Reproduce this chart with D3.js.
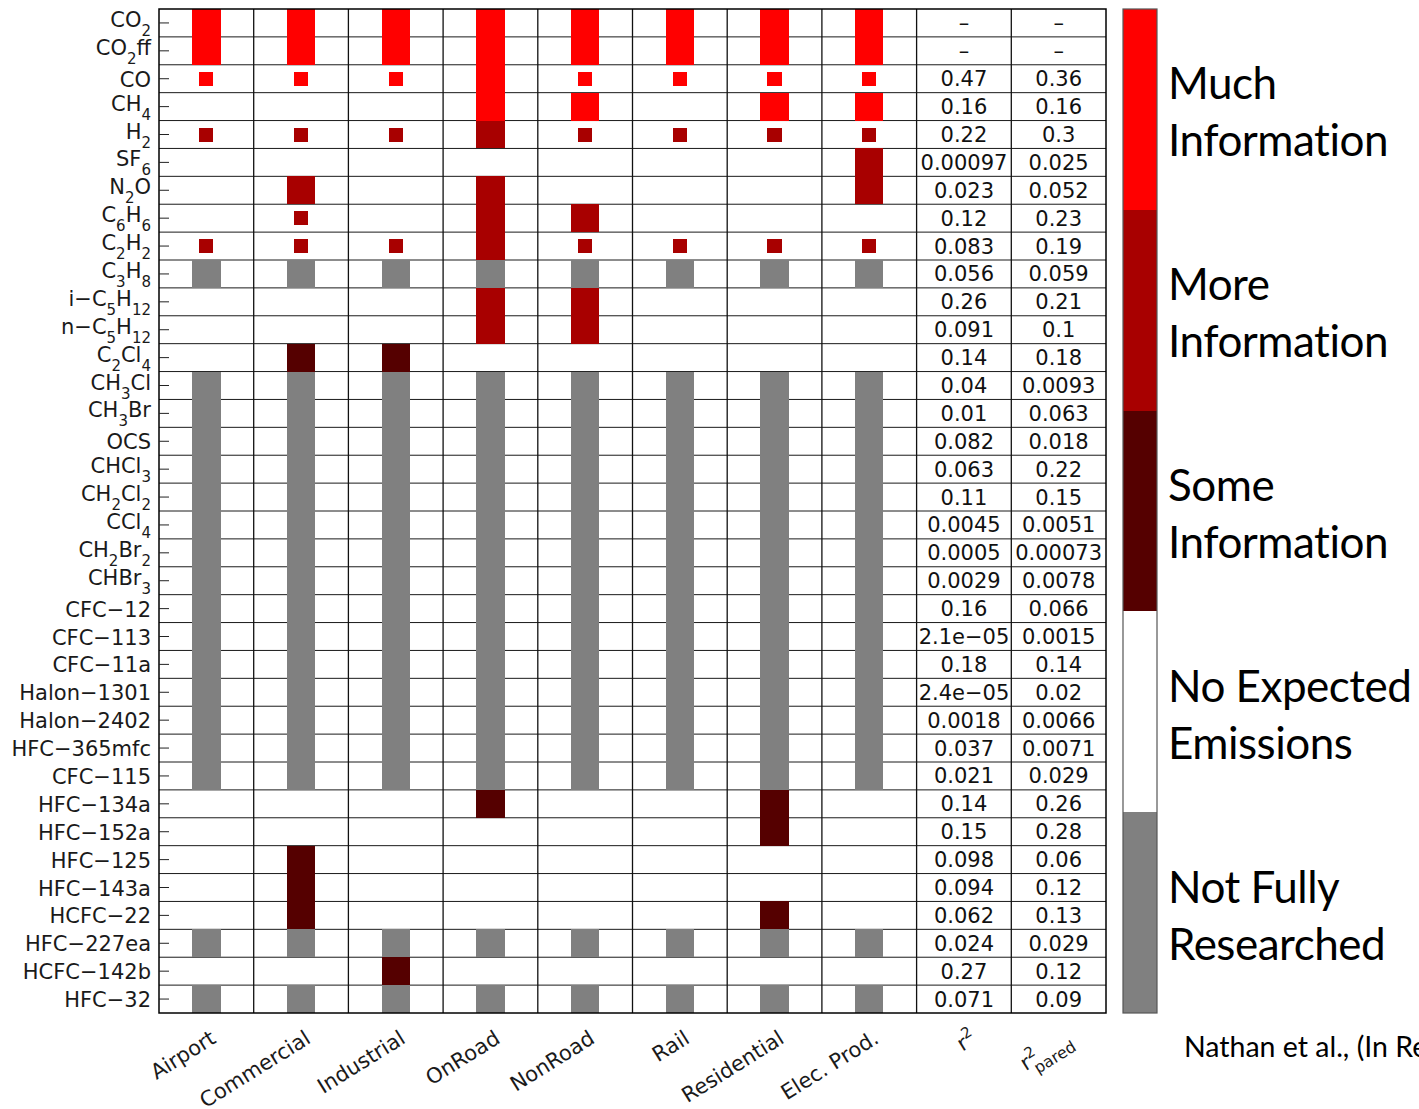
<!DOCTYPE html>
<html>
<head>
<meta charset="utf-8">
<script src="https://cdn.jsdelivr.net/npm/d3@7"></script>
<style>
  body { margin: 0; background: #fff; }
  svg { display: block; }
</style>
</head>
<body>
<svg id="chart" width="1419" height="1109"></svg>
<script>
// Trace species (rows); "_" introduces a run of subscript digits
const species = ["CO_2","CO_2ff","CO","CH_4","H_2","SF_6","N_2O","C_6H_6","C_2H_2","C_3H_8",
  "i−C_5H_12","n−C_5H_12","C_2Cl_4","CH_3Cl","CH_3Br","OCS","CHCl_3","CH_2Cl_2","CCl_4",
  "CH_2Br_2","CHBr_3","CFC−12","CFC−113","CFC−11a","Halon−1301","Halon−2402","HFC−365mfc",
  "CFC−115","HFC−134a","HFC−152a","HFC−125","HFC−143a","HCFC−22","HFC−227ea","HCFC−142b","HFC−32"];

const sectors = ["Airport","Commercial","Industrial","OnRoad","NonRoad","Rail","Residential","Elec. Prod."];

// Information level per species, one character per row:
// M much, R more, S some, G not fully researched, "." no expected emissions.
// Lower case = partial (small marker) entry.
const airportInfo     = "MMm.r...rG..." + "GGGGGGGGGGGGGGG" + ".....G.G";
const commercialInfo  = "MMm.r.RrrG..S" + "GGGGGGGGGGGGGGG" + "..SSSG.G";
const industrialInfo  = "MMm.r...rG..S" + "GGGGGGGGGGGGGGG" + ".....GSG";
const onRoadInfo      = "MMMMR.RRRGRR." + "GGGGGGGGGGGGGGG" + "S....G.G";
const nonRoadInfo     = "MMmMr..RrGRR." + "GGGGGGGGGGGGGGG" + ".....G.G";
const railInfo        = "MMm.r...rG..." + "GGGGGGGGGGGGGGG" + ".....G.G";
const residentialInfo = "MMmMr...rG..." + "GGGGGGGGGGGGGGG" + "SS..SG.G";
const elecProdInfo    = "MMmMrRR.rG..." + "GGGGGGGGGGGGGGG" + ".....G.G";
const sectorInfo = [airportInfo, commercialInfo, industrialInfo, onRoadInfo,
                    nonRoadInfo, railInfo, residentialInfo, elecProdInfo];

// Correlation with CO2ff (null = not applicable)
const r2 = [null,null,0.47,0.16,0.22,0.00097,0.023,0.12,0.083,0.056,0.26,0.091,0.14,0.04,0.01,
  0.082,0.063,0.11,0.0045,0.0005,0.0029,0.16,2.1e-05,0.18,2.4e-05,0.0018,0.037,0.021,0.14,0.15,
  0.098,0.094,0.062,0.024,0.27,0.071];
const r2pared = [null,null,0.36,0.16,0.3,0.025,0.052,0.23,0.19,0.059,0.21,0.1,0.18,0.0093,0.063,
  0.018,0.22,0.15,0.0051,0.00073,0.0078,0.066,0.0015,0.14,0.02,0.0066,0.0071,0.029,0.26,0.28,
  0.06,0.12,0.13,0.029,0.12,0.09];

// Colour key
const levelCodes = ["M","R","S",".","G"];
const levelLines = [["Much","Information"],["More","Information"],["Some","Information"],
                    ["No Expected","Emissions"],["Not Fully","Researched"]];
const citation = "Nathan et al., (In Review)";

// ---- drawing ----
const fill = d3.scaleOrdinal().domain(levelCodes)
  .range(["#ff0000","#a80000","#550000","#ffffff","#808080"]);

const svg = d3.select("#chart");
const FONT = "DejaVu Sans, sans-serif";
const plotL = 159, plotR = 1106, plotT = 9, plotB = 1013;

const columns = [...sectors, "r2", "r2pared"];
const x = d3.scaleBand().domain(columns).range([plotL, plotR]);
const y = d3.scaleBand().domain(species).range([plotT, plotB]);
const bw = x.bandwidth(), bh = y.bandwidth();

svg.append("rect").attr("width", 1419).attr("height", 1109).attr("fill", "#fff");

// row separators
svg.append("g").selectAll("line").data(species.slice(1)).join("line")
  .attr("x1", plotL).attr("x2", plotR)
  .attr("y1", d => y(d)).attr("y2", d => y(d))
  .attr("stroke", "#1a1a1a").attr("stroke-width", 1);

// column separators
svg.append("g").selectAll("line").data(columns.slice(1)).join("line")
  .attr("x1", d => x(d)).attr("x2", d => x(d))
  .attr("y1", plotT).attr("y2", plotB)
  .attr("stroke", "#111").attr("stroke-width", 1.3);

// information cells
const cells = sectors.flatMap((s, i) =>
  sectorInfo[i].split("").map((c, j) => ({ sector: s, sp: species[j], code: c })))
  .filter(d => d.code !== ".");
const barW = bw * 0.3, markW = barW * 0.5, markH = 14;
svg.append("g").attr("shape-rendering", "crispEdges")
  .selectAll("rect").data(cells).join("rect")
  .each(function(d) {
    const small = d.code !== d.code.toUpperCase();
    const cx = x(d.sector) + bw / 2, cy = y(d.sp) + bh / 2;
    const w = small ? markW : barW, h = small ? markH : bh;
    d3.select(this).attr("x", cx - w / 2).attr("y", cy - h / 2)
      .attr("width", w).attr("height", h)
      .attr("fill", fill(d.code.toUpperCase()));
  });

// frame
svg.append("rect").attr("x", plotL).attr("y", plotT)
  .attr("width", plotR - plotL).attr("height", plotB - plotT)
  .attr("fill", "none").attr("stroke", "#000").attr("stroke-width", 1.5);

// y axis ticks (pointing inwards)
svg.append("g").attr("transform", `translate(${plotL},0)`)
  .call(d3.axisLeft(y).tickSizeInner(-10).tickSizeOuter(0).tickFormat(""))
  .call(a => a.select(".domain").remove())
  .call(a => a.selectAll("line").attr("stroke", "#222"));

// text with subscript runs
function richText(textSel, str, subSize, shift) {
  const parts = str.split(/_(\d+)/);
  let off = 0;
  parts.forEach((p, i) => {
    if (p === "") return;
    const isSub = i % 2 === 1;
    const target = isSub ? shift : 0;
    textSel.append("tspan")
      .attr("dy", target - off)
      .attr("font-size", isSub ? subSize : null)
      .text(p);
    off = target;
  });
}

// species labels
svg.append("g").selectAll("text").data(species).join("text")
  .attr("x", 151)
  .attr("y", d => y(d) + bh / 2 + (d.includes("_") ? 4 : 8))
  .attr("text-anchor", "end")
  .attr("font-family", FONT).attr("font-size", 21).attr("fill", "#1a1a1a")
  .each(function(d) { richText(d3.select(this), d, 15, 9); });

// correlation columns
const fmt = v => v == null ? "–"
  : v < 1e-4 ? v.toExponential(1).replace(/e-(\d)$/, "e−0$1") : String(v);
[["r2", r2], ["r2pared", r2pared]].forEach(([col, vals]) => {
  svg.append("g").selectAll("text").data(vals).join("text")
    .attr("x", x(col) + bw / 2)
    .attr("y", (v, i) => y(species[i]) + bh / 2 + 7.5)
    .attr("text-anchor", "middle")
    .attr("font-family", FONT).attr("font-size", 21).attr("fill", "#111")
    .text(fmt);
});

// column labels
const xl = svg.append("g");
columns.forEach(c => {
  const isR = c.startsWith("r2");
  const gl = xl.append("g")
    .attr("transform", `translate(${x(c) + bw / 2 + (isR ? 14 : 11)},1042) rotate(-32)`);
  const t = gl.append("text").attr("text-anchor", "end")
    .attr("font-family", FONT).attr("font-size", 21).attr("fill", "#1a1a1a");
  if (c === "r2") {
    t.append("tspan").text("r");
    t.append("tspan").attr("dy", -9).attr("font-size", 15).text("2");
  } else if (c === "r2pared") {
    t.append("tspan").text("r");
    t.append("tspan").attr("dy", -9).attr("font-size", 15).text("2");
    t.append("tspan").attr("dx", -9).attr("dy", 18).attr("font-size", 16).text("pared");
  } else {
    t.text(c);
  }
});

// colour key
const ky = d3.scaleBand().domain(levelCodes).range([plotT, plotB]);
const key = svg.append("g");
key.append("g").attr("shape-rendering", "crispEdges")
  .selectAll("rect").data(levelCodes).join("rect")
  .attr("x", 1123).attr("width", 34)
  .attr("y", d => ky(d)).attr("height", ky.bandwidth())
  .attr("fill", d => fill(d));
key.append("rect").attr("x", 1123).attr("y", plotT).attr("width", 34).attr("height", plotB - plotT)
  .attr("fill", "none").attr("stroke", "#555").attr("stroke-width", 1.2);
key.selectAll("text.lbl").data(levelCodes).join("text").attr("class", "lbl")
  .attr("font-family", "Lato, sans-serif").attr("font-size", 44)
  .attr("letter-spacing", -0.5).attr("fill", "#000")
  .each(function(d, i) {
    const cy = ky(d) + ky.bandwidth() / 2;
    const t = d3.select(this);
    levelLines[i].forEach((line, k) => {
      t.append("tspan").attr("x", 1168).attr("y", cy - 10 + k * 57).text(line);
    });
  });

svg.append("text").attr("x", 1184).attr("y", 1057)
  .attr("font-family", "Lato, sans-serif").attr("font-size", 28.5).attr("fill", "#000")
  .text(citation);
</script>
</body>
</html>
